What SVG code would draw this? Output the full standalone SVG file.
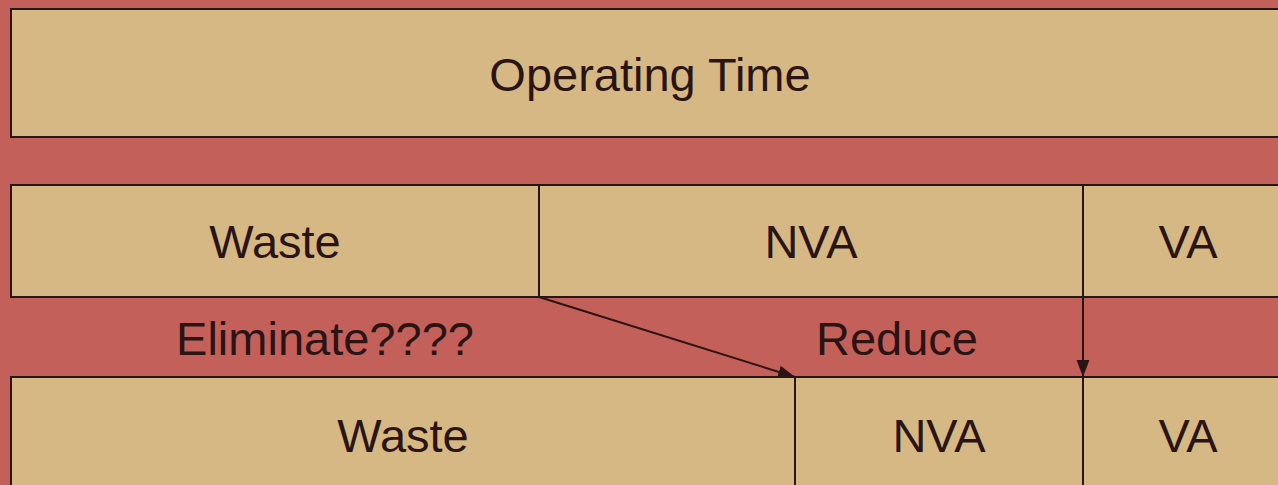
<svg xmlns="http://www.w3.org/2000/svg" width="1278" height="485" viewBox="0 0 1278 485">
<defs>
<style>
.box{fill:#d6b884;stroke:#2b1414;stroke-width:2}
.t{font-family:"Liberation Sans",Arial,sans-serif;font-size:47px;fill:#2b1414;text-anchor:middle}
.c{stroke:#2b1414;stroke-width:2;fill:none}
</style>
<marker id="ah2" viewBox="0 0 10 10" refX="10" refY="5" markerWidth="17" markerHeight="17" markerUnits="userSpaceOnUse" orient="auto"><path d="M0,1.2L10,5L0,8.8Z" fill="#2b1414"/></marker>
</defs>
<rect width="1278" height="485" fill="#c4605a"/>
<g id="operating-time"><rect class="box" x="11" y="9" width="1282" height="128"/><text class="t" x="650" y="91">Operating Time</text></g>
<g id="waste1"><rect class="box" x="11" y="185" width="528" height="112"/><text class="t" x="275" y="258">Waste</text></g>
<g id="nva1"><rect class="box" x="539" y="185" width="544" height="112"/><text class="t" x="811" y="258">NVA</text></g>
<g id="va1"><rect class="box" x="1083" y="185" width="210" height="112"/><text class="t" x="1188" y="258">VA</text></g>
<g id="label-eliminate"><text class="t" x="325" y="355">Eliminate????</text></g>
<g id="label-reduce"><text class="t" x="897" y="355">Reduce</text></g>
<g id="waste2"><rect class="box" x="11" y="377" width="784" height="120"/><text class="t" x="403" y="452">Waste</text></g>
<g id="nva2"><rect class="box" x="795" y="377" width="288" height="120"/><text class="t" x="939" y="452">NVA</text></g>
<g id="va2"><rect class="box" x="1083" y="377" width="210" height="120"/><text class="t" x="1188" y="452">VA</text></g>
<g id="connectors">
<line class="c" x1="539" y1="297" x2="795" y2="377" marker-end="url(#ah2)"/>
<line class="c" x1="1083" y1="297" x2="1083" y2="377" marker-end="url(#ah2)"/>
</g>
</svg>
